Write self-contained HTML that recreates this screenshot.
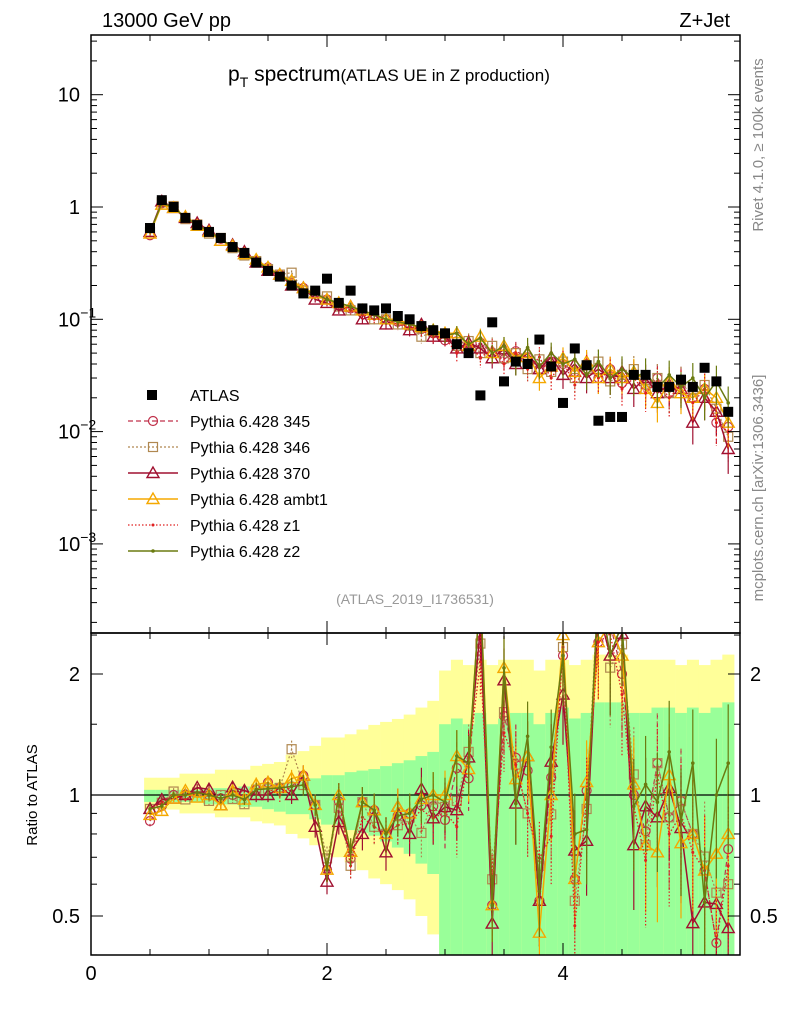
<!DOCTYPE html>
<html><head><meta charset="utf-8"><style>
body{margin:0;background:#fff;}
svg{font-family:"Liberation Sans",sans-serif;}
</style></head><body>
<svg id="c" width="786" height="1024" xmlns="http://www.w3.org/2000/svg">
<text x="102" y="27" font-size="20">13000 GeV pp</text>
<text x="730" y="27" font-size="20" text-anchor="end">Z+Jet</text>
<text x="228" y="81" font-size="21">p<tspan font-size="14" dy="6">T</tspan><tspan dy="-6"> spectrum</tspan><tspan font-size="17">(ATLAS UE in Z production)</tspan></text>
<text x="415" y="604" font-size="14" fill="#999" text-anchor="middle">(ATLAS_2019_I1736531)</text>
<text transform="translate(763,145) rotate(-90)" font-size="15" fill="#888" text-anchor="middle">Rivet 4.1.0, ≥ 100k events</text>
<text transform="translate(763,488) rotate(-90)" font-size="15" fill="#888" text-anchor="middle">mcplots.cern.ch [arXiv:1306.3436]</text>
<text transform="translate(37,795) rotate(-90)" font-size="15" text-anchor="middle">Ratio to ATLAS</text>
<g id="g"></g>
</svg>
<script>
const xCenters=[0.5,0.6,0.7,0.8,0.9,1.0,1.1,1.2,1.3,1.4,1.5,1.6,1.7,1.8,1.9,2.0,2.1,2.2,2.3,2.4,2.5,2.6,2.7,2.8,2.9,3.0,3.1,3.2,3.3,3.4,3.5,3.6,3.7,3.8,3.9,4.0,4.1,4.2,4.3,4.4,4.5,4.6,4.7,4.8,4.9,5.0,5.1,5.2,5.3,5.4];
const atlas=[0.65,1.15,1.0,0.8,0.69,0.6,0.53,0.44,0.39,0.32,0.27,0.24,0.2,0.17,0.18,0.23,0.14,0.18,0.125,0.12,0.125,0.107,0.1,0.087,0.08,0.075,0.06,0.05,0.021,0.094,0.028,0.042,0.04,0.066,0.038,0.018,0.055,0.039,0.0125,0.0135,0.0135,0.032,0.032,0.025,0.025,0.029,0.025,0.037,0.028,0.015];
const errInner=[0.03,0.03,0.03,0.03,0.03,0.04,0.04,0.04,0.05,0.05,0.06,0.07,0.08,0.08,0.1,0.12,0.12,0.14,0.15,0.16,0.18,0.2,0.22,0.25,0.28,0.5,0.55,0.5,0.6,0.5,0.55,0.6,0.6,0.5,0.6,0.65,0.55,0.6,0.7,0.7,0.7,0.6,0.6,0.65,0.65,0.6,0.65,0.6,0.65,0.7];
const errOuter=[0.08,0.08,0.08,0.1,0.1,0.1,0.12,0.12,0.12,0.14,0.15,0.16,0.2,0.22,0.25,0.3,0.3,0.32,0.35,0.38,0.4,0.42,0.45,0.5,0.55,0.8,0.9,0.85,0.9,0.85,0.9,0.9,0.9,0.8,0.9,0.9,0.85,0.9,0.95,0.95,0.95,0.9,0.9,0.9,0.9,0.85,0.9,0.85,0.9,0.95];
const mcErr=[0.03,0.02,0.02,0.02,0.02,0.03,0.03,0.03,0.03,0.04,0.04,0.05,0.05,0.06,0.06,0.07,0.07,0.08,0.09,0.1,0.1,0.11,0.12,0.13,0.14,0.15,0.16,0.17,0.18,0.19,0.2,0.21,0.22,0.23,0.24,0.25,0.26,0.27,0.28,0.29,0.3,0.31,0.32,0.33,0.34,0.35,0.36,0.37,0.38,0.4];
const py345=[0.56,1.08,1.0,0.8,0.7,0.6,0.52,0.44,0.39,0.33,0.29,0.25,0.21,0.19,0.17,0.15,0.135,0.125,0.12,0.11,0.1,0.095,0.09,0.082,0.075,0.065,0.07,0.055,0.062,0.05,0.044,0.052,0.046,0.036,0.042,0.04,0.034,0.04,0.03,0.036,0.027,0.032,0.026,0.03,0.022,0.028,0.02,0.024,0.012,0.011];
const py346=[0.6,1.1,1.02,0.78,0.7,0.58,0.53,0.43,0.37,0.33,0.28,0.25,0.26,0.18,0.17,0.16,0.13,0.12,0.12,0.1,0.1,0.09,0.088,0.07,0.078,0.07,0.058,0.064,0.05,0.058,0.045,0.05,0.036,0.044,0.034,0.042,0.03,0.036,0.042,0.028,0.032,0.036,0.024,0.03,0.022,0.028,0.02,0.026,0.016,0.009];
const py370=[0.6,1.12,0.98,0.8,0.72,0.62,0.5,0.46,0.4,0.32,0.27,0.25,0.2,0.19,0.15,0.14,0.12,0.13,0.1,0.11,0.09,0.1,0.08,0.09,0.07,0.07,0.055,0.062,0.055,0.045,0.054,0.04,0.05,0.036,0.046,0.032,0.04,0.03,0.036,0.03,0.034,0.024,0.03,0.022,0.026,0.024,0.012,0.02,0.015,0.007];
const pyambt1=[0.58,1.05,0.98,0.82,0.68,0.6,0.5,0.45,0.38,0.34,0.29,0.25,0.22,0.19,0.17,0.15,0.14,0.13,0.12,0.11,0.1,0.1,0.09,0.085,0.08,0.075,0.075,0.058,0.07,0.05,0.058,0.046,0.05,0.03,0.038,0.045,0.034,0.042,0.03,0.036,0.03,0.034,0.024,0.018,0.028,0.022,0.02,0.024,0.02,0.012];
const pyz1=[0.6,1.1,1.0,0.78,0.7,0.6,0.52,0.44,0.38,0.33,0.28,0.24,0.21,0.18,0.17,0.15,0.14,0.12,0.11,0.1,0.1,0.09,0.085,0.08,0.07,0.068,0.05,0.062,0.045,0.056,0.04,0.05,0.036,0.046,0.03,0.042,0.026,0.038,0.03,0.034,0.024,0.03,0.022,0.028,0.02,0.026,0.018,0.024,0.012,0.01];
const pyz2=[0.6,1.08,1.0,0.8,0.7,0.6,0.52,0.44,0.38,0.33,0.28,0.25,0.21,0.18,0.17,0.15,0.14,0.13,0.12,0.11,0.1,0.095,0.09,0.085,0.08,0.072,0.075,0.06,0.068,0.05,0.058,0.04,0.056,0.038,0.05,0.04,0.044,0.032,0.042,0.03,0.036,0.03,0.034,0.024,0.032,0.025,0.03,0.02,0.028,0.018];
const mainTickLabels=["10","1","10","10","10"];
const mainTickExp=["","","−1","−2","−3"];
const mainTickVals=[10,1,0.1,0.01,0.001];
const ratioTickVals=[2,1,0.5];
const ratioTickLabels=["2","1","0.5"];
const xTickVals=[0,2,4];
const xTickLabels=["0","2","4"];

const NS="http://www.w3.org/2000/svg";
const g=document.getElementById('g');
const L=91,R=740,T=35,MB=633,RB=955;
const X=v=>L+v*(R-L)/5.5;
const Y=v=>207-112.3*Math.log10(v);
const YR=v=>795-121*Math.log2(v);
function mk(t,a,p){const e=document.createElementNS(NS,t);for(const k in a)e.setAttribute(k,a[k]);(p||g).appendChild(e);return e;}

const bw=(R-L)/55;
for(let i=0;i<xCenters.length;i++){
  const x0=X(xCenters[i])-bw/2;
  const lo=Math.max(0.4,1-errOuter[i]),hi=Math.min(2.53,1+errOuter[i]*1.3);
  let r=mk('rect',{x:x0,y:YR(hi),width:bw+0.3,height:YR(lo)-YR(hi),fill:'#ffff99'});
  
  
  const lo2=Math.max(0.4,1-errInner[i]*1.3),hi2=Math.min(2.53,1+errInner[i]);
  r=mk('rect',{x:x0,y:YR(hi2),width:bw+0.3,height:YR(lo2)-YR(hi2),fill:'#99ff99'});
  
  
}
mk('line',{x1:L,x2:R,y1:YR(1),y2:YR(1),stroke:'#000','stroke-width':1.2});

const defs=mk('defs',{});
const c1=mk('clipPath',{id:'cm'},defs);mk('rect',{x:L,y:T,width:R-L,height:MB-T},c1);
const c2=mk('clipPath',{id:'cr'},defs);mk('rect',{x:L,y:MB,width:R-L,height:RB-MB},c2);
const gm=mk('g',{'clip-path':'url(#cm)'});
const gr=mk('g',{'clip-path':'url(#cr)'});

const series=[
 {name:'Pythia 6.428 345',d:py345,c:'#c0304a',dash:'5,3',m:'circle',w:1.2},
 {name:'Pythia 6.428 346',d:py346,c:'#b08850',dash:'2,2',m:'square',w:1.2},
 {name:'Pythia 6.428 370',d:py370,c:'#a01030',dash:'',m:'tri',w:1.5},
 {name:'Pythia 6.428 ambt1',d:pyambt1,c:'#f5a800',dash:'',m:'tri',w:1.5},
 {name:'Pythia 6.428 z1',d:pyz1,c:'#e02020',dash:'1.5,2',m:'dot',w:1.3},
 {name:'Pythia 6.428 z2',d:pyz2,c:'#6b7b10',dash:'',m:'dot2',w:1.5}
];
function marker(p,m,x,y,c){
  let e;
  if(m==='circle')e=mk('circle',{cx:x,cy:y,r:4.5,fill:'none',stroke:c,'stroke-width':1.2},p);
  else if(m==='square')e=mk('rect',{x:x-4.5,y:y-4.5,width:9,height:9,fill:'none',stroke:c,'stroke-width':1.2},p);
  else if(m==='tri')e=mk('polygon',{points:`${x},${y-6} ${x-6},${y+4.5} ${x+6},${y+4.5}`,fill:'none',stroke:c,'stroke-width':1.4},p);
  else if(m==='dot')e=mk('circle',{cx:x,cy:y,r:1.5,fill:c},p);
  else e=mk('circle',{cx:x,cy:y,r:1.8,fill:c},p);
  return e;
}
series.forEach((s,si)=>{
  const pm=s.d.map((v,i)=>X(xCenters[i]).toFixed(1)+','+Y(v).toFixed(1)).join(' ');
  let pl=mk('polyline',{points:pm,fill:'none',stroke:s.c,'stroke-width':s.w,'stroke-dasharray':s.dash},gm);
  
  
  const pr=s.d.map((v,i)=>X(xCenters[i]).toFixed(1)+','+YR(v/atlas[i]).toFixed(1)).join(' ');
  pl=mk('polyline',{points:pr,fill:'none',stroke:s.c,'stroke-width':s.w,'stroke-dasharray':s.dash},gr);
  
  
  s.d.forEach((v,i)=>{
    const x=X(xCenters[i]);
    const e1=mcErr[i];
    let eb=mk('line',{x1:x,x2:x,y1:Y(v*(1+e1)),y2:Y(v*(1-e1)),stroke:s.c,'stroke-width':1.2,'stroke-dasharray':s.dash},gm);
    
    
    const rv=v/atlas[i];
    eb=mk('line',{x1:x,x2:x,y1:YR(rv*(1+e1)),y2:YR(rv*(1-e1)),stroke:s.c,'stroke-width':1.2,'stroke-dasharray':s.dash},gr);
    
    
    const e=marker(gm,s.m,x,Y(v),s.c);
    
    
    const e2=marker(gr,s.m,x,YR(rv),s.c);
    
    
  });
});
atlas.forEach((v,i)=>{
  const r=mk('rect',{x:X(xCenters[i])-5,y:Y(v)-5,width:10,height:10,fill:'#000'},gm);
  
  
});

mk('rect',{x:L,y:T,width:R-L,height:MB-T,fill:'none',stroke:'#000','stroke-width':1.5});
mk('rect',{x:L,y:MB,width:R-L,height:RB-MB,fill:'none',stroke:'#000','stroke-width':1.5});

for(let d=-4;d<=1;d++){
  for(let k=1;k<10;k++){
    const v=k*Math.pow(10,d),y=Y(v);
    if(y<T||y>MB)continue;
    const len=k===1?12:6;
    mk('line',{x1:L,x2:L+len,y1:y,y2:y,stroke:'#000'});
    mk('line',{x1:R,x2:R-len,y1:y,y2:y,stroke:'#000'});
  }
}
mainTickVals.forEach((v,i)=>{
  const t=mk('text',{x:mainTickExp[i]?62:80,y:Y(v)+7,'font-size':20,'text-anchor':'end'});
  t.textContent=mainTickLabels[i];
  if(mainTickExp[i]){const s=mk('tspan',{'font-size':14,dy:-9},t);s.textContent=mainTickExp[i];t.setAttribute('x',58);t.setAttribute('text-anchor','start');}
  
  
});
[0.4,0.5,0.6,0.7,0.8,0.9,1,1.5,2,2.5].forEach(v=>{
  const y=YR(v);if(y<MB||y>RB)return;
  const len=(v===1||v===2||v===0.5)?12:6;
  mk('line',{x1:L,x2:L+len,y1:y,y2:y,stroke:'#000'});
  mk('line',{x1:R,x2:R-len,y1:y,y2:y,stroke:'#000'});
});
ratioTickVals.forEach((v,i)=>{
  let t=mk('text',{x:80,y:YR(v)+7,'font-size':20,'text-anchor':'end'});t.textContent=ratioTickLabels[i];
  
  
  t=mk('text',{x:750,y:YR(v)+7,'font-size':20});t.textContent=ratioTickLabels[i];
  
  
});
for(let v=0;v<=5.5;v+=0.5){
  const x=X(v),len=(Math.abs(v%2)<0.01)?12:6;
  [[MB,1],[RB,-1],[T,1],[MB,-1]].forEach(([y,s])=>mk('line',{x1:x,x2:x,y1:y,y2:y+s*len,stroke:'#000'}));
}
xTickVals.forEach((v,i)=>{
  const t=mk('text',{x:X(v),y:980,'font-size':20,'text-anchor':'middle'});t.textContent=xTickLabels[i];
  
  
});

const lg=mk('g',{});


mk('rect',{x:147,y:390,width:10,height:10,fill:'#000'},lg);
let t=mk('text',{x:190,y:401,'font-size':16},lg);t.textContent='ATLAS';
series.forEach((s,i)=>{
  const y=421+26*i;
  mk('line',{x1:128,x2:178,y1:y,y2:y,stroke:s.c,'stroke-width':s.w,'stroke-dasharray':s.dash},lg);
  marker(lg,s.m,153,y,s.c);
  const tt=mk('text',{x:190,y:y+6,'font-size':16},lg);tt.textContent=s.name;
  
  
});
</script>
</body></html>
